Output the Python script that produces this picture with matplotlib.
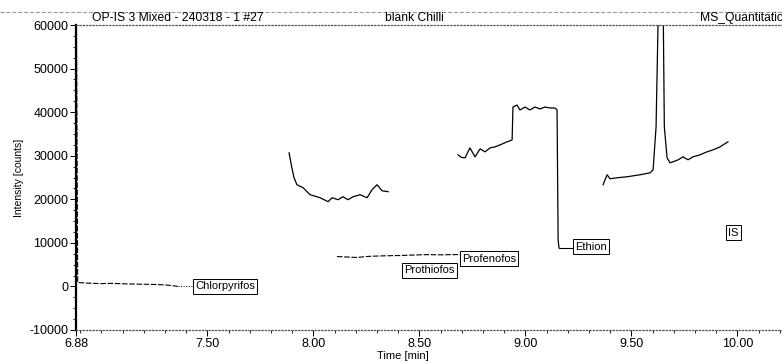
import numpy as np
import matplotlib
matplotlib.use("Agg")
import matplotlib.pyplot as plt
from matplotlib.ticker import MultipleLocator, FixedLocator

plt.rcParams['font.family'] = ['Liberation Sans', 'DejaVu Sans']
plt.rcParams['axes.unicode_minus'] = False

# chromatogram segments (time in min, intensity in counts)
chlorpyrifos_t = [6.882, 6.888, 6.92, 6.96, 7.00, 7.05, 7.10, 7.15, 7.20, 7.25, 7.30, 7.34, 7.36]
chlorpyrifos_i = [62000, 900, 800, 700, 650, 700, 600, 550, 500, 450, 350, 150, 0]

seg2_t = [7.885, 7.895, 7.908, 7.922, 7.951, 7.984, 8.031, 8.069, 8.088, 8.116, 8.139,
          8.163, 8.187, 8.220, 8.253, 8.276, 8.300, 8.323, 8.352]
seg2_i = [30660, 28000, 25000, 23340, 22650, 21050, 20360, 19450, 20360, 19900, 20590,
          19900, 20590, 21050, 20360, 22190, 23340, 21960, 21740]

prothiofos_t = [8.111, 8.160, 8.205, 8.260, 8.314, 8.360, 8.408, 8.470, 8.536, 8.597, 8.650, 8.701]
prothiofos_i = [6860, 6750, 6650, 6900, 7000, 7050, 7100, 7200, 7300, 7250, 7300, 7300]

ethion_t = [8.682, 8.698, 8.715, 8.738, 8.762, 8.786, 8.809, 8.833, 8.856, 8.880, 8.913,
            8.937, 8.941, 8.960, 8.974, 8.998, 9.021, 9.045, 9.069, 9.092, 9.116, 9.139,
            9.149, 9.154, 9.158]
ethion_i = [30200, 29600, 29515, 31800, 29745, 31575, 30890, 31800, 32030, 32490, 33180,
            33630, 41180, 41640, 40500, 41180, 40500, 41180, 40730, 41180, 40955, 40955,
            40500, 10750, 8920]

is_t = [9.366, 9.385, 9.399, 9.432, 9.479, 9.540, 9.588, 9.602, 9.616, 9.626, 9.637,
        9.650, 9.655, 9.668, 9.682, 9.696, 9.720, 9.743, 9.767, 9.790, 9.823, 9.856,
        9.885, 9.918, 9.932, 9.955]
is_i = [23340, 25625, 24710, 24940, 25170, 25625, 26080, 26770, 36610, 62000, 75000,
        62000, 36610, 29515, 28370, 28600, 29060, 29745, 29060, 29745, 30200, 30890,
        31350, 32030, 32490, 33180]

# compound labels: name, time of box left edge, intensity of box centre
label_names = ["Chlorpyrifos", "Prothiofos", "Profenofos", "Ethion", "IS"]
label_t = [7.441, 8.427, 8.701, 9.234, 9.955]
label_i = [0, 3660, 6400, 9150, 12350]

x_ticks = [6.88, 7.50, 8.00, 8.50, 9.00, 9.50, 10.00]
x_ticklabels = ["6.88", "7.50", "8.00", "8.50", "9.00", "9.50", "10.00"]

fig = plt.figure(figsize=(7.82, 3.61), dpi=100)
ax = fig.add_axes([0.0972, 0.0859, 0.9028, 0.8448])

ax.plot(chlorpyrifos_t, chlorpyrifos_i, color='black', lw=0.8, ls=(0, (5, 1.5)))
ax.plot(seg2_t, seg2_i, color='black', lw=0.9)
ax.plot(prothiofos_t, prothiofos_i, color='black', lw=0.8, ls=(0, (5, 1.5)))
ax.plot(ethion_t, ethion_i, color='black', lw=0.9)
ax.plot(is_t, is_i, color='black', lw=0.9)

# leader lines to the label boxes
ax.plot([chlorpyrifos_t[-1], label_t[0]], [chlorpyrifos_i[-1], label_i[0]],
        color='black', lw=0.7, ls=':')
ax.plot([ethion_t[-1], label_t[3] - 0.012], [ethion_i[-1], ethion_i[-1]],
        color='black', lw=0.8)

for name, t, i in zip(label_names, label_t, label_i):
    ax.text(t, i, name, ha='left', va='center', fontsize=8,
            bbox=dict(boxstyle='square,pad=0.2', fc='white', ec='black', lw=0.7))

ax.set_xlim(6.88, 10.21)
ax.set_ylim(-10000, 60000)

ax.xaxis.set_major_locator(FixedLocator(x_ticks))
ax.set_xticklabels(x_ticklabels)
ax.xaxis.set_minor_locator(MultipleLocator(0.1))
ax.yaxis.set_major_locator(MultipleLocator(10000))
ax.yaxis.set_minor_locator(MultipleLocator(2500))
ax.tick_params(axis='both', which='major', labelsize=9, length=4, width=0.7, pad=1.5)
ax.tick_params(axis='both', which='minor', length=2, width=0.6)

for side in ['top', 'bottom']:
    ax.spines[side].set_linestyle(':')
    ax.spines[side].set_color('#555555')
    ax.spines[side].set_linewidth(0.9)
ax.spines['right'].set_visible(False)
ax.spines['left'].set_linewidth(1.6)

ax.set_xlabel("Time [min]", fontsize=8, labelpad=0)
ax.xaxis.set_label_coords(0.463, -0.068)
ax.set_ylabel("Intensity [counts]", fontsize=7.5, labelpad=4)

# report header above the plot
fig.add_artist(plt.Line2D([0.0, 1.0], [1 - 12 / 361, 1 - 12 / 361],
                          color='#999999', lw=0.8, ls='--'))
fig.text(92 / 782, 1 - 18 / 361, "OP-IS 3 Mixed - 240318 - 1 #27", fontsize=8.7, va='center')
fig.text(385 / 782, 1 - 18 / 361, "blank Chilli", fontsize=8.7, va='center')
fig.text(700 / 782, 1 - 18 / 361, "MS_Quantitatio", fontsize=8.7, va='center')

fig.savefig("out.png", dpi=100)
